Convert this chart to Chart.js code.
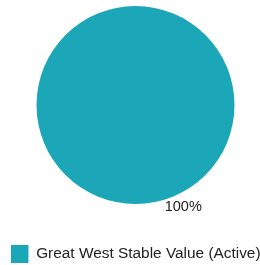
<!DOCTYPE html>
<html>
<head>
<meta charset="utf-8">
<script src="https://cdn.jsdelivr.net/npm/chart.js@4"></script>
<style>
  html, body { margin: 0; padding: 0; background: #fff; }
  #wrap { width: 260px; height: 265px; }
</style>
</head>
<body>
<div id="wrap"><canvas id="pie"></canvas></div>
<script>
const labels = ['Great West Stable Value (Active)'];
const values = [100];
const colors = ['#1ba7b8'];

// prints the percent just outside the slice, below and to the right
const percentLabels = {
  id: 'percentLabels',
  afterDatasetsDraw(chart) {
    const ctx = chart.ctx;
    const meta = chart.getDatasetMeta(0);
    const total = values.reduce((a, b) => a + b, 0);
    const angle = 65 * Math.PI / 180;
    ctx.save();
    ctx.font = '14.5px "Liberation Sans", Arial, sans-serif';
    ctx.fillStyle = '#222';
    ctx.textAlign = 'center';
    ctx.textBaseline = 'middle';
    meta.data.forEach((arc, i) => {
      const r = arc.outerRadius + 14;
      const pct = Math.round(values[i] / total * 100);
      ctx.fillText(pct + '%', arc.x + Math.cos(angle) * r, arc.y + Math.sin(angle) * r);
    });
    ctx.restore();
  }
};

new Chart(document.getElementById('pie').getContext('2d'), {
  type: 'pie',
  data: {
    labels: labels,
    datasets: [{
      data: values,
      backgroundColor: colors,
      borderWidth: 0
    }]
  },
  options: {
    responsive: true,
    maintainAspectRatio: false,
    animation: false,
    layout: { padding: { top: 6, left: 11, right: 0, bottom: -8 } },
    plugins: {
      legend: {
        position: 'bottom',
        // empty title only used as a spacer above the legend row
        title: { display: true, text: '', font: { size: 10, lineHeight: 1 }, padding: { top: 19, bottom: 0 } },
        labels: {
          boxWidth: 18,
          boxHeight: 18,
          padding: 12,
          color: '#222',
          font: { family: '"Liberation Sans", Arial, sans-serif', size: 15.4 }
        }
      },
      tooltip: { enabled: false }
    }
  },
  plugins: [percentLabels]
});
</script>
</body>
</html>
